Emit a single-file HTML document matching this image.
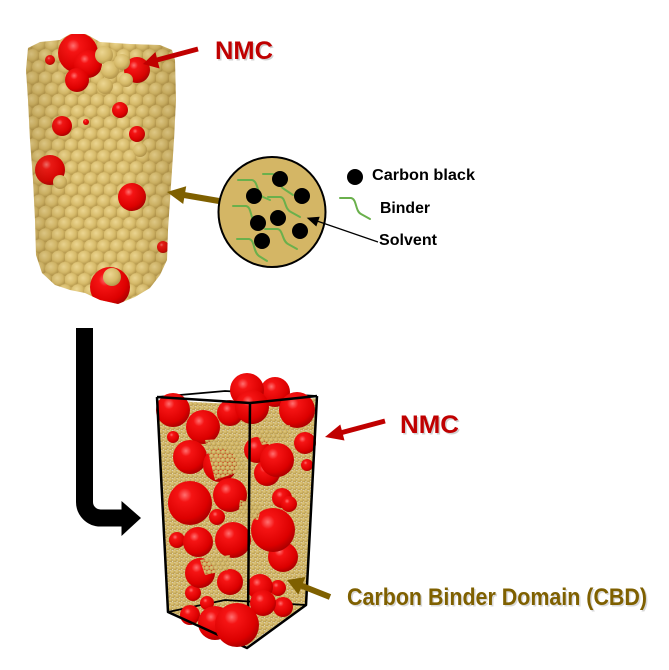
<!DOCTYPE html>
<html><head><meta charset="utf-8"><style>
html,body{margin:0;padding:0;background:#fff;}
svg{display:block;}
</style></head><body>
<svg width="669" height="670" viewBox="0 0 669 670" xmlns="http://www.w3.org/2000/svg">
<defs>
  <radialGradient id="red" cx="0.38" cy="0.32" r="0.72">
    <stop offset="0" stop-color="#ff7070"/>
    <stop offset="0.22" stop-color="#f51414"/>
    <stop offset="0.75" stop-color="#dc0000"/>
    <stop offset="1" stop-color="#a60000"/>
  </radialGradient>
  <radialGradient id="tan" cx="0.4" cy="0.35" r="0.7">
    <stop offset="0" stop-color="#ecd692"/>
    <stop offset="0.6" stop-color="#d6ba69"/>
    <stop offset="1" stop-color="#ad8f46"/>
  </radialGradient>
  <radialGradient id="tan2" cx="0.4" cy="0.35" r="0.7">
    <stop offset="0" stop-color="#e2ca80"/>
    <stop offset="0.7" stop-color="#c6a958"/>
    <stop offset="1" stop-color="#9c803c"/>
  </radialGradient>
  <linearGradient id="shade" x1="0" y1="0" x2="1" y2="0">
    <stop offset="0" stop-color="#6b5320" stop-opacity="0.22"/>
    <stop offset="0.3" stop-color="#6b5320" stop-opacity="0"/>
    <stop offset="0.7" stop-color="#6b5320" stop-opacity="0"/>
    <stop offset="1" stop-color="#6b5320" stop-opacity="0.22"/>
  </linearGradient>
  <pattern id="balls" patternUnits="userSpaceOnUse" width="13" height="22.4">
    <rect width="13" height="22.4" fill="#c9ac5c"/>
    <circle cx="0" cy="0" r="7" fill="url(#tan)"/>
    <circle cx="13" cy="0" r="7" fill="url(#tan)"/>
    <circle cx="6.5" cy="11.2" r="7" fill="url(#tan)"/>
    <circle cx="0" cy="22.4" r="7" fill="url(#tan)"/>
    <circle cx="13" cy="22.4" r="7" fill="url(#tan)"/>
  </pattern>
  <pattern id="dots" patternUnits="userSpaceOnUse" width="4.6" height="8">
    <circle cx="0" cy="0" r="2.35" fill="url(#tan2)"/>
    <circle cx="4.6" cy="0" r="2.35" fill="url(#tan2)"/>
    <circle cx="2.3" cy="4" r="2.35" fill="url(#tan2)"/>
    <circle cx="0" cy="8" r="2.35" fill="url(#tan2)"/>
    <circle cx="4.6" cy="8" r="2.35" fill="url(#tan2)"/>
  </pattern>
  <clipPath id="col">
    <polygon points="28,48 40,42 60,40 70,34 86,34 100,42 130,44 160,45 172,50 175,60 176,100 174,140 172,170 170,200 168,230 167,260 160,275 150,288 135,297 118,304 100,300 85,293 70,290 55,285 42,273 36,255 35,220 33,180 30,140 28,100 26,70"/>
  </clipPath>
</defs>

<!-- ===== Top column ===== -->
<g clip-path="url(#col)">
  <rect x="0" y="0" width="200" height="320" fill="url(#balls)"/>
  <circle cx="78" cy="53" r="20" fill="url(#red)"/>
  <circle cx="88" cy="64" r="14" fill="url(#red)"/>
  <circle cx="77" cy="80" r="12" fill="url(#red)"/>
  <circle cx="137" cy="70" r="13" fill="url(#red)"/>
  <circle cx="50" cy="60" r="5" fill="url(#red)"/>
  <circle cx="120" cy="110" r="8" fill="url(#red)"/>
  <circle cx="62" cy="126" r="10" fill="url(#red)"/>
  <circle cx="137" cy="134" r="8" fill="url(#red)"/>
  <circle cx="50" cy="170" r="15" fill="url(#red)"/>
  <circle cx="132" cy="197" r="14" fill="url(#red)"/>
  <circle cx="163" cy="247" r="6" fill="url(#red)"/>
  <circle cx="110" cy="287" r="20" fill="url(#red)"/>
  <circle cx="86" cy="122" r="3" fill="url(#red)"/>
  <!-- tan overlaps -->
  <circle cx="104" cy="55" r="9" fill="url(#tan)"/>
  <circle cx="110" cy="70" r="9" fill="url(#tan)"/>
  <circle cx="122" cy="62" r="8" fill="url(#tan)"/>
  <circle cx="105" cy="86" r="8" fill="url(#tan)"/>
  <circle cx="126" cy="80" r="7" fill="url(#tan)"/>
  <circle cx="112" cy="277" r="9" fill="url(#tan)"/>
  <circle cx="140" cy="150" r="7" fill="url(#tan)"/>
  <circle cx="60" cy="182" r="7" fill="url(#tan)"/>
  <rect x="24" y="30" width="154" height="280" fill="url(#shade)"/>
</g>

<!-- gold arrow circle -> column -->
<line x1="219" y1="201" x2="184" y2="195" stroke="#7f6000" stroke-width="6"/>
<polygon points="167,192 186.2,186.2 183.2,204" fill="#7f6000"/>

<!-- top NMC arrow -->
<line x1="198" y1="49" x2="157" y2="60" stroke="#c00000" stroke-width="5"/>
<polygon points="143,64 159.6,68.5 155.4,52" fill="#c00000"/>
<text x="216.5" y="60.5" font-family="Liberation Sans, Arial, sans-serif" font-weight="bold" font-size="25" fill="#000" opacity="0.18" textLength="58" lengthAdjust="spacingAndGlyphs">NMC</text>
<text x="215" y="59" font-family="Liberation Sans, Arial, sans-serif" font-weight="bold" font-size="25" fill="#c00000" textLength="58" lengthAdjust="spacingAndGlyphs">NMC</text>

<!-- ===== Zoom circle ===== -->
<ellipse cx="272" cy="212" rx="53.5" ry="55" fill="#d4b665" stroke="#000" stroke-width="2"/>
<g fill="none" stroke="#6ab04c" stroke-width="2" stroke-linecap="round">
  <path d="M263,174 H272 C279,174 278,186 284,189 L293,195"/>
  <path d="M238,180 H252 C258,181 257,194 263,197 L270,200"/>
  <path d="M268,197 H280 C286,197 284,209 291,212 L300,217"/>
  <path d="M233,206 H246 C252,207 250,220 256,223 L263,227"/>
  <path d="M265,229 H277 C283,229 282,241 288,244 L297,249"/>
  <path d="M237,239 H249 C255,240 253,252 259,256 L267,261"/>
</g>
<g fill="#000">
  <circle cx="280" cy="179" r="8"/>
  <circle cx="254" cy="196" r="8"/>
  <circle cx="302" cy="196" r="8"/>
  <circle cx="278" cy="218" r="8"/>
  <circle cx="258" cy="223" r="8"/>
  <circle cx="300" cy="231" r="8"/>
  <circle cx="262" cy="241" r="8"/>
</g>
<!-- solvent arrow -->
<line x1="378" y1="242" x2="317" y2="221" stroke="#000" stroke-width="1.2"/>
<polygon points="306.7,217.7 319.7,216.7 316.3,226.5" fill="#000"/>

<!-- legend -->
<circle cx="355" cy="177" r="8" fill="#000"/>
<text x="372" y="180" font-family="Liberation Sans, Arial, sans-serif" font-weight="bold" font-size="16" fill="#000" textLength="103" lengthAdjust="spacingAndGlyphs">Carbon black</text>
<path d="M340,198 H351 C357,199 355,211 361,214 L370,219" fill="none" stroke="#6ab04c" stroke-width="2" stroke-linecap="round"/>
<text x="380" y="213" font-family="Liberation Sans, Arial, sans-serif" font-weight="bold" font-size="16" fill="#000" textLength="50" lengthAdjust="spacingAndGlyphs">Binder</text>
<text x="379" y="245" font-family="Liberation Sans, Arial, sans-serif" font-weight="bold" font-size="16" fill="#000" textLength="58" lengthAdjust="spacingAndGlyphs">Solvent</text>

<!-- ===== Bent black arrow ===== -->
<path d="M84.5,328 V502 A16,16 0 0 0 100.5,518 H124" fill="none" stroke="#000" stroke-width="17"/>
<polygon points="121.5,501 141,518 121.5,536" fill="#000"/>

<!-- ===== Bottom box ===== -->
<polygon points="158,400 250,405 316,398 306,604 247,646 168,611" fill="url(#dots)"/>
<g stroke="#000" stroke-width="1.8" fill="none">
  <path d="M157,397 L225,391 L317,396"/>
  <path d="M168,612 L225,600 L306,605"/>
</g>
<g>
  <circle cx="173" cy="437" r="6" fill="url(#red)"/>
  <circle cx="307" cy="465" r="6" fill="url(#red)"/>
  <circle cx="217" cy="517" r="8" fill="url(#red)"/>
  <circle cx="177" cy="540" r="8" fill="url(#red)"/>
  <circle cx="278" cy="588" r="8" fill="url(#red)"/>
  <circle cx="193" cy="593" r="8" fill="url(#red)"/>
  <circle cx="207" cy="603" r="7" fill="url(#red)"/>
  <circle cx="283" cy="607" r="10" fill="url(#red)"/>
  <circle cx="190" cy="615" r="10" fill="url(#red)"/>
  <circle cx="282" cy="498" r="10" fill="url(#red)"/>
  <circle cx="289" cy="504" r="8" fill="url(#red)"/>
  <circle cx="305" cy="443" r="11" fill="url(#red)"/>
  <circle cx="230" cy="413" r="13" fill="url(#red)"/>
  <circle cx="257" cy="450" r="13" fill="url(#red)"/>
  <circle cx="267" cy="473" r="13" fill="url(#red)"/>
  <circle cx="230" cy="582" r="13" fill="url(#red)"/>
  <circle cx="260" cy="587" r="13" fill="url(#red)"/>
  <circle cx="263" cy="603" r="13" fill="url(#red)"/>
  <circle cx="275" cy="392" r="15" fill="url(#red)"/>
  <circle cx="247" cy="390" r="17" fill="url(#red)"/>
  <circle cx="252" cy="407" r="17" fill="url(#red)"/>
  <circle cx="173" cy="410" r="17" fill="url(#red)"/>
  <circle cx="203" cy="427" r="17" fill="url(#red)"/>
  <circle cx="297" cy="410" r="18" fill="url(#red)"/>
  <circle cx="190" cy="457" r="17" fill="url(#red)"/>
  <circle cx="220" cy="465" r="17" fill="url(#red)"/>
  <circle cx="277" cy="460" r="17" fill="url(#red)"/>
  <circle cx="230" cy="495" r="17" fill="url(#red)"/>
  <circle cx="198" cy="542" r="15" fill="url(#red)"/>
  <circle cx="283" cy="557" r="15" fill="url(#red)"/>
  <circle cx="200" cy="573" r="15" fill="url(#red)"/>
  <circle cx="233" cy="540" r="18" fill="url(#red)"/>
  <circle cx="190" cy="503" r="22" fill="url(#red)"/>
  <circle cx="273" cy="530" r="22" fill="url(#red)"/>
  <circle cx="215" cy="623" r="17" fill="url(#red)"/>
</g>
<!-- small tan clusters over spheres -->
<g fill="url(#dots)">
  <polygon points="205,440 240,438 245,470 215,480"/>
  <polygon points="240,500 262,505 258,520 238,515"/>
  <polygon points="200,560 230,555 228,570 205,575"/>
  <polygon points="255,430 290,425 288,440 262,445"/>
</g>
<g stroke="#000" stroke-width="2.5" fill="none" stroke-linejoin="round">
  <path d="M157,397 L250,403 L317,396"/>
  <path d="M157,397 L168,612 L247,648 L306,605 L317,396"/>
  <path d="M250,403 L248,620"/>
</g>
<circle cx="237" cy="625" r="22" fill="url(#red)"/>

<!-- bottom NMC arrow -->
<line x1="385" y1="421" x2="342" y2="432.5" stroke="#c00000" stroke-width="5"/>
<polygon points="325,437 344.5,440.5 340.3,424.5" fill="#c00000"/>
<text x="401.5" y="434.5" font-family="Liberation Sans, Arial, sans-serif" font-weight="bold" font-size="25" fill="#000" opacity="0.18" textLength="59" lengthAdjust="spacingAndGlyphs">NMC</text>
<text x="400" y="433" font-family="Liberation Sans, Arial, sans-serif" font-weight="bold" font-size="25" fill="#c00000" textLength="59" lengthAdjust="spacingAndGlyphs">NMC</text>

<!-- CBD arrow -->
<line x1="330" y1="597" x2="301" y2="585.5" stroke="#7f6000" stroke-width="6"/>
<polygon points="287,580 305.5,577 298.3,594.6" fill="#7f6000"/>
<text x="348.5" y="606.5" font-family="Liberation Sans, Arial, sans-serif" font-weight="bold" font-size="24" fill="#000" opacity="0.15" textLength="300" lengthAdjust="spacingAndGlyphs">Carbon Binder Domain (CBD)</text>
<text x="347" y="605" font-family="Liberation Sans, Arial, sans-serif" font-weight="bold" font-size="24" fill="#7f6000" textLength="300" lengthAdjust="spacingAndGlyphs">Carbon Binder Domain (CBD)</text>
</svg>
</body></html>
